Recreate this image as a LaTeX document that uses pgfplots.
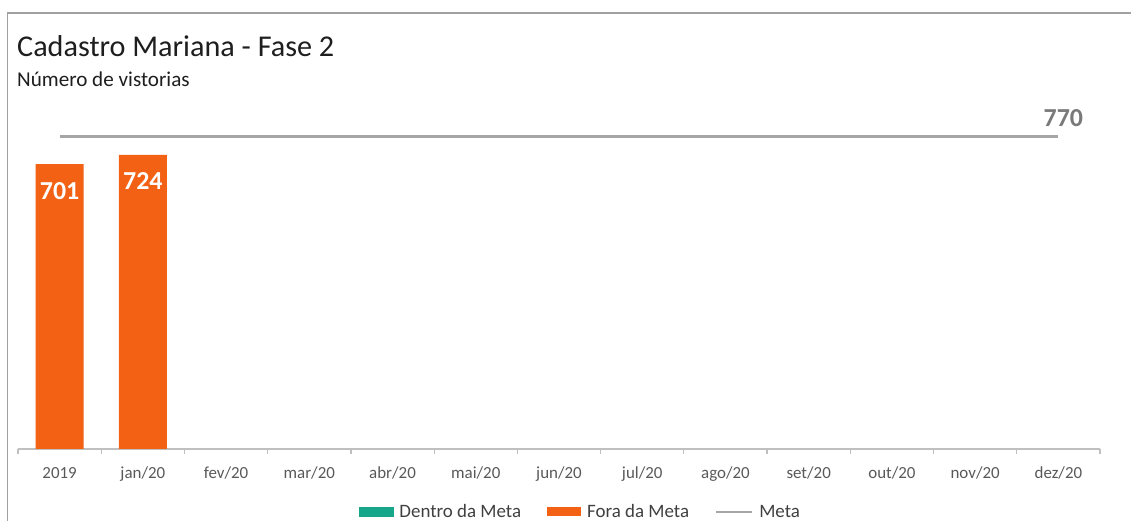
\documentclass[border=0pt]{standalone}
\usepackage{pgfplots}
\pgfplotsset{compat=1.18}
\usepackage{fontspec}
\setmainfont{Carlito}
\definecolor{laranja}{HTML}{F26114}
\definecolor{verde}{HTML}{17A68A}
\definecolor{metacinza}{HTML}{A6A6A6}
\definecolor{eixo}{HTML}{BFBFBF}
\definecolor{moldura}{HTML}{A0A0A0}
\definecolor{texto}{HTML}{595959}
\definecolor{legtexto}{HTML}{404040}
\definecolor{titulo}{HTML}{1E1E1E}
\begin{document}
\begin{tikzpicture}[x=1bp,y=1bp]
\useasboundingbox (0,0) rectangle (1131,521);
\fill[white] (0,0) rectangle (1131,521);
\draw[moldura, line width=1.2bp] (7.5,0) -- (7.5,508) -- (1131,508);
\node[anchor=base west, inner sep=0pt, text=titulo, font=\fontsize{30.3}{32}\selectfont] at (17,464) {Cadastro Mariana - Fase 2};
\node[anchor=base west, inner sep=0pt, text=titulo, font=\fontsize{21.2}{22}\selectfont] at (17,434) {Número de vistorias};
\begin{axis}[
    at={(18bp,72bp)}, anchor=south west,
    scale only axis, width=1082bp, height=345.4bp,
    xmin=-0.5, xmax=12.5, ymin=0, ymax=850,
    axis x line*=bottom, axis y line=none,
    x axis line style={draw=eixo, line width=1.2bp, -},
    xtick={0,...,12},
    xticklabels={2019,jan/20,fev/20,mar/20,abr/20,mai/20,jun/20,jul/20,ago/20,set/20,out/20,nov/20,dez/20},
    major tick length=0pt,
    minor xtick={-0.5,0.5,...,12.5},
    minor tick length=5bp, tick align=outside,
    minor tick style={draw=eixo, line width=1.2bp},
    xticklabel style={anchor=base, yshift=-30bp, inner sep=0pt, text=texto, font=\fontsize{17}{18}\selectfont},
    /pgf/number format/assume math mode=true,
    clip=false,
    legend style={at={(0.3152,-0.1824)}, anchor=west, draw=none, fill=none, inner sep=0pt, outer sep=0pt,
        legend columns=-1, font=\fontsize{19}{20}\selectfont,
        nodes={inner sep=0pt, text=legtexto},
        /tikz/every odd column/.append style={column sep=6bp},
        /tikz/every even column/.append style={column sep=26bp}},
]
\addlegendimage{legend image code/.code={\fill[verde] (0bp,-4.5bp) rectangle (34bp,4.5bp);}}
\addlegendentry{Dentro da Meta}
\addplot[ybar, bar width=48bp, bar shift=0pt, fill=laranja, draw=none,
    legend image code/.code={\fill[laranja] (0bp,-4.5bp) rectangle (34bp,4.5bp);},
    nodes near coords,
    nodes near coords style={anchor=north, yshift=-18bp, inner sep=0pt, text=white, font=\fontsize{26}{28}\selectfont\bfseries}]
    coordinates {(0,701) (1,724)};
\addlegendentry{Fora da Meta}
\addplot[metacinza, line width=2.8bp, mark=none,
    legend image code/.code={\draw[metacinza, line width=2.2bp] (0bp,0bp) -- (36bp,0bp);}]
    coordinates {(0,770) (12,770)};
\addlegendentry{Meta}
\node[anchor=base, inner sep=0pt, text=gray!95!black, font=\fontsize{26}{28}\selectfont\bfseries] at (axis cs:12,770) [xshift=5bp, yshift=10bp] {770};
\end{axis}
\end{tikzpicture}
\end{document}
